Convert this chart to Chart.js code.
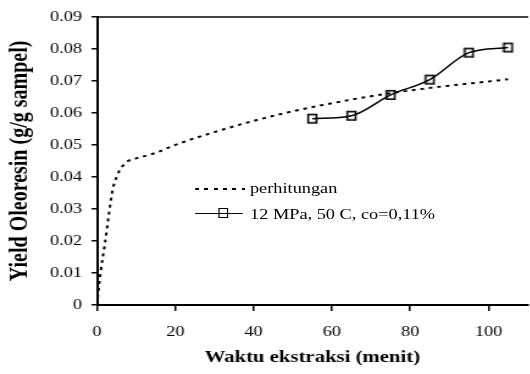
<!DOCTYPE html>
<html>
<head>
<meta charset="utf-8">
<script src="https://cdn.jsdelivr.net/npm/chart.js@4/dist/chart.umd.min.js"></script>
<style>
  html, body { margin: 0; padding: 0; background: #fff; overflow: hidden; width: 530px; height: 374px; }
  /* the source picture is stretched sideways, so the whole chart is too */
  #wrap { position: absolute; left: 0; top: 0; width: 440px; height: 374px; transform: scaleX(1.22); transform-origin: 0 0; }
  .leg { position: absolute; font: 15px "Liberation Serif", "Times New Roman", serif; line-height: 15px; white-space: nowrap; color: #000; }
  .dots { position: absolute; height: 2px; background: repeating-linear-gradient(to right, #000 0 3.2px, transparent 3.2px 7.6px); }
  .solid { position: absolute; height: 1.5px; background: #000; }
  .box { position: absolute; box-sizing: border-box; border: 1.6px solid #000; }
</style>
</head>
<body>
<div id="wrap">
  <canvas id="yieldChart"></canvas>
  <div class="dots" style="left:159.8px; top:188px; width:41px;"></div>
  <div class="leg" style="left:204.9px; top:181px;">perhitungan</div>
  <div class="solid" style="left:159.8px; top:212.5px; width:39.5px;"></div>
  <div class="box" style="left:178.6px; top:208px; width:8.4px; height:10px;"></div>
  <div class="leg" style="left:205px; top:206.5px;">12 MPa, 50 C, co=0,11%</div>
</div>
<script>
// model curve (perhitungan)
const calcTime = [0, 0.5, 1, 2, 3, 4, 5, 6, 7, 8, 10, 15, 20, 30, 40, 50, 60, 70, 80, 90, 100, 105];
const calcYield = [0, 0.006, 0.011, 0.019, 0.028, 0.036, 0.040, 0.0425, 0.0440, 0.0450, 0.0458, 0.0475,
                   0.0500, 0.0540, 0.0575, 0.0605, 0.0630, 0.0652, 0.0670, 0.0685, 0.0698, 0.0705];

// experiment, 12 MPa 50 C
const expTime = [55, 65, 75, 85, 95, 105];
const expYield = [0.0582, 0.0591, 0.0656, 0.0704, 0.0788, 0.0804];

const xTickLabels = ['0', '20', '40', '60', '80', '100'];
const yTickLabels = ['0', '0.01', '0.02', '0.03', '0.04', '0.05', '0.06', '0.07', '0.08', '0.09'];

const serif = '"Liberation Serif", "Times New Roman", serif';
Chart.defaults.font.family = serif;
Chart.defaults.color = '#000';

// hollow square marker, a bit narrow so it comes out square after the stretch
const square = document.createElement('canvas');
square.width = 10;
square.height = 12;
const sq = square.getContext('2d');
sq.lineWidth = 1.6;
sq.strokeStyle = '#000';
sq.strokeRect(1.6, 1.8, 6.8, 8.4);

const toPts = (xs, ys) => xs.map((x, i) => ({ x: x, y: ys[i] }));

new Chart(document.getElementById('yieldChart'), {
    type: 'line',
    data: {
        datasets: [{
            label: 'perhitungan',
            data: toPts(calcTime, calcYield),
            borderColor: '#000',
            borderWidth: 2,
            borderDash: [3, 4],
            pointRadius: 0,
            cubicInterpolationMode: 'monotone',
            fill: false,
        }, {
            label: '12 MPa, 50 C, co=0,11%',
            data: toPts(expTime, expYield),
            borderColor: '#000',
            borderWidth: 1.5,
            pointStyle: square,
            pointRadius: 6,
            cubicInterpolationMode: 'monotone',
            fill: false,
        }]
    },
    options: {
        responsive: true,
        maintainAspectRatio: false,
        animation: false,
        layout: { padding: { top: 16.7, right: 3.1, bottom: 0, left: 0 } },
        plugins: { legend: { display: false }, tooltip: { enabled: false } },
        scales: {
            x: {
                type: 'linear',
                position: 'bottom',
                min: 0,
                max: 110,
                border: { color: '#000', width: 2 },
                grid: { drawOnChartArea: false, drawTicks: true, tickLength: 6, color: '#000', lineWidth: 1.5 },
                ticks: {
                    stepSize: 20,
                    includeBounds: false,
                    padding: 11.7,
                    maxRotation: 0,
                    font: { size: 15 },
                    callback: (v, i) => xTickLabels[i] ?? '',
                },
                title: {
                    display: true,
                    text: 'Waktu ekstraksi (menit)',
                    font: { size: 17, weight: 'bold' },
                    padding: { top: 0, bottom: 6.2 },
                },
                afterFit: (s) => { s.height = 69; },
            },
            xTop: {
                type: 'linear',
                position: 'top',
                min: 0,
                max: 110,
                border: { color: '#444', width: 2 },
                grid: { display: false },
                ticks: { display: false },
                afterFit: (s) => { s.height = 0; },
            },
            y: {
                min: 0,
                max: 0.09,
                border: { color: '#000', width: 2 },
                grid: { drawOnChartArea: false, drawTicks: true, tickLength: 4.5, color: '#000', lineWidth: 1.5 },
                ticks: {
                    stepSize: 0.01,
                    padding: 7.8,
                    font: { size: 15 },
                    callback: (v, i) => yTickLabels[i],
                },
                title: {
                    display: true,
                    text: 'Yield Oleoresin (g/g sampel)',
                    font: { size: 20, weight: 'bold' },
                    padding: { top: 4.4, bottom: 0 },
                },
                afterFit: (s) => { s.width = 79.5; },
            }
        }
    }
});
</script>
</body>
</html>
